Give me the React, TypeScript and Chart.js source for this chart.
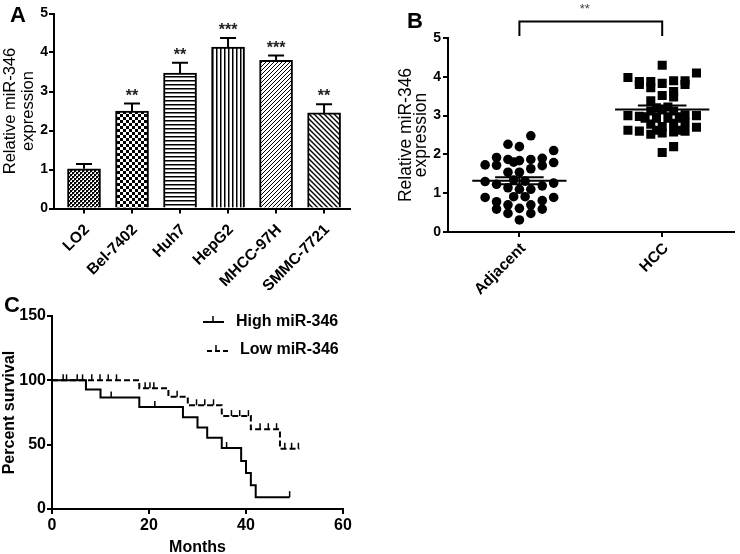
import React, { useEffect, useRef } from 'react';
import { Chart, registerables } from 'chart.js';

Chart.register(...registerables);

const FONT = '"Liberation Sans", Arial, Helvetica, sans-serif';

// ---------- Panel A ----------
const cellLines = ['LO2', 'Bel-7402', 'Huh7', 'HepG2', 'MHCC-97H', 'SMMC-7721'];
const expression = [1.02, 2.5, 3.47, 4.14, 3.8, 2.45];
const expressionSem = [0.12, 0.19, 0.27, 0.23, 0.12, 0.22];
const cellSignificance = ['', '**', '**', '***', '***', '**'];
const patternKinds = ['fineCheck', 'check', 'hLines', 'vLines', 'diagUp', 'diagDown'];

// ---------- Panel B ----------
const groups = ['Adjacent', 'HCC'];
const adjacentX = [1.08, 0.92, 1.0, 1.24, 0.84, 0.92, 0.96, 1.0, 1.08, 1.16, 1.24, 0.76, 0.84, 1.16, 1.08, 0.92, 1.0, 0.76, 0.84, 0.92, 1.0, 1.08, 1.16, 1.24, 0.96, 1.04, 0.76, 1.24, 0.96, 1.04, 0.84, 1.16, 0.92, 1.08, 0.84, 1.0, 1.16, 0.92, 1.08, 1.0];
const adjacentY = [2.48, 2.26, 2.2, 2.1, 1.92, 1.87, 1.8, 1.84, 1.87, 1.9, 1.79, 1.73, 1.72, 1.71, 1.63, 1.54, 1.54, 1.3, 1.23, 1.14, 1.1, 1.1, 1.19, 1.26, 1.34, 1.31, 0.89, 0.89, 0.91, 0.91, 0.78, 0.81, 0.7, 0.7, 0.59, 0.61, 0.59, 0.48, 0.48, 0.31];
const hccX = [2.0, 2.24, 1.76, 1.84, 1.84, 1.92, 1.92, 2.0, 2.08, 2.16, 2.16, 2.0, 2.08, 2.08, 1.92, 1.92, 2.0, 2.08, 1.96, 2.04, 1.76, 1.84, 2.16, 2.24, 1.88, 1.96, 2.04, 2.12, 1.92, 2.08, 2.24, 2.0, 2.16, 1.76, 1.84, 1.92, 2.0, 2.08, 2.16, 1.96, 2.12, 2.0, 2.08];
const hccY = [4.3, 4.1, 3.98, 3.88, 3.8, 3.88, 3.72, 3.83, 3.9, 3.9, 3.8, 3.52, 3.62, 3.48, 3.38, 3.12, 3.15, 3.12, 3.2, 3.22, 3.0, 2.98, 3.02, 3.0, 2.93, 2.93, 2.93, 2.93, 2.78, 2.8, 2.7, 2.72, 2.82, 2.62, 2.6, 2.52, 2.55, 2.58, 2.6, 2.62, 2.62, 2.05, 2.2];
const groupMeans = [1.32, 3.16];
const groupSems = [0.09, 0.1];
const groupSignificance = '**';

// ---------- Panel C ----------
const highMonths = [0, 7, 10, 18, 27, 30, 32, 35, 39, 40, 41, 42, 49];
const highSurvival = [100, 92.9, 86.7, 79.2, 71.4, 63.3, 55.3, 47.4, 37.3, 27.9, 18.4, 9.2, 9.2];
const highCensorMonths = [2.3, 5.2, 12.2, 21.2, 36, 49];
const lowMonths = [0, 18, 24, 28, 35, 41, 47, 51];
const lowSurvival = [100, 93.8, 87.3, 80.6, 72.2, 62.0, 46.8, 46.8];
const lowCensorMonths = [3, 6.3, 8.2, 9.9, 11.6, 13.3, 19.2, 20.2, 21, 25.8, 29.8, 31.5, 33.3, 37, 38.7, 40.5, 42.9, 44.6, 46.3, 48, 49.4, 50.8];
const survivalLegend = ['High miR-346', 'Low miR-346'];

function survivalAt(months: number[], surv: number[], t: number) {
  let v = surv[0];
  for (let i = 0; i < months.length; i++) if (months[i] <= t) v = surv[i];
  return v;
}

function makePattern(kind: string): CanvasPattern | string {
  const c = document.createElement('canvas');
  const ctx = c.getContext('2d')!;
  let n = 4;
  if (kind === 'check') n = 6;
  if (kind === 'diagDown') n = 5;
  c.width = n; c.height = n;
  ctx.fillStyle = '#fff';
  ctx.fillRect(0, 0, n, n);
  ctx.fillStyle = '#000';
  ctx.strokeStyle = '#000';
  if (kind === 'fineCheck') {
    ctx.fillRect(0, 0, 2, 2); ctx.fillRect(2, 2, 2, 2);
    ctx.fillStyle = '#666';
    ctx.fillRect(2, 0, 1, 1); ctx.fillRect(0, 2, 1, 1);
  } else if (kind === 'check') {
    ctx.fillRect(0, 0, 3, 3); ctx.fillRect(3, 3, 3, 3);
  } else if (kind === 'hLines') {
    ctx.fillRect(0, 0, n, 1.5);
  } else if (kind === 'vLines') {
    ctx.fillRect(0, 0, 1.5, n);
  } else if (kind === 'diagUp') {
    ctx.lineWidth = 1;
    ctx.beginPath();
    ctx.moveTo(-1, n + 1); ctx.lineTo(n + 1, -1);
    ctx.moveTo(-1, 1); ctx.lineTo(1, -1);
    ctx.moveTo(n - 1, n + 1); ctx.lineTo(n + 1, n - 1);
    ctx.stroke();
  } else if (kind === 'diagDown') {
    ctx.lineWidth = 1.4;
    ctx.beginPath();
    ctx.moveTo(-1, -1); ctx.lineTo(n + 1, n + 1);
    ctx.moveTo(-1, n - 1); ctx.lineTo(1, n + 1);
    ctx.moveTo(n - 1, -1); ctx.lineTo(n + 1, 1);
    ctx.stroke();
  }
  return ctx.createPattern(c, 'repeat') || '#888';
}

const axisGrid = { drawOnChartArea: false, drawTicks: true, tickLength: 5, color: '#000', lineWidth: 2, offset: false };
const axisBorder = { display: true, color: '#000', width: 2 };

function drawRotatedLabels(chart: any, labels: string[], firstValue: number, dx: number, dy: number) {
  const { ctx, scales } = chart;
  const xs = scales.x;
  const axisY = scales.y.getPixelForValue(0);
  ctx.save();
  ctx.fillStyle = '#000';
  ctx.font = `bold 15.5px ${FONT}`;
  ctx.textAlign = 'right';
  ctx.textBaseline = 'middle';
  labels.forEach((lab, i) => {
    const x = xs.getPixelForValue(firstValue + i);
    ctx.save();
    ctx.translate(x + dx, axisY + dy);
    ctx.rotate(-Math.PI / 4);
    ctx.fillText(lab, 0, 0);
    ctx.restore();
  });
  ctx.restore();
}

function ChartBox({ left, top, width, height, make }: any) {
  const ref = useRef<HTMLCanvasElement>(null);
  useEffect(() => {
    const chart = new Chart(ref.current!, make());
    return () => chart.destroy();
  }, []);
  return (
    <canvas
      ref={ref}
      width={width}
      height={height}
      style={{ position: 'absolute', left, top, width, height }}
    />
  );
}

function makeChartA(): any {
  const errorPlugin = {
    id: 'errA',
    afterDatasetsDraw(chart: any) {
      const { ctx, scales } = chart;
      const xs = scales.x, ys = scales.y;
      ctx.save();
      ctx.strokeStyle = '#000';
      ctx.lineWidth = 2;
      cellLines.forEach((_, i) => {
        const x = xs.getPixelForValue(i);
        const yb = ys.getPixelForValue(expression[i]);
        const yt = ys.getPixelForValue(expression[i] + expressionSem[i]);
        ctx.beginPath();
        ctx.moveTo(x, yb); ctx.lineTo(x, yt);
        ctx.moveTo(x - 8, yt); ctx.lineTo(x + 8, yt);
        ctx.stroke();
        if (cellSignificance[i]) {
          ctx.fillStyle = '#222';
          ctx.font = `bold 16px ${FONT}`;
          ctx.textAlign = 'center';
          ctx.textBaseline = 'alphabetic';
          ctx.fillText(cellSignificance[i], x, yt - 3);
        }
      });
      ctx.restore();
      drawRotatedLabels(chart, cellLines, 0, 3, 19);
    },
  };
  return {
    type: 'bar',
    data: {
      datasets: [{
        data: cellLines.map((_, i) => ({ x: i, y: expression[i] })),
        backgroundColor: patternKinds.map(makePattern),
        borderColor: '#000',
        borderWidth: 2,
        barThickness: 33,
      }],
    },
    options: {
      animation: false,
      responsive: false,
      events: [],
      layout: { padding: { top: 13.5, right: 20, left: 0, bottom: 0 } },
      plugins: { legend: { display: false }, tooltip: { enabled: false } },
      scales: {
        x: {
          type: 'linear',
          offset: false,
          min: -0.625,
          max: 5.54,
          afterBuildTicks: (s: any) => { s.ticks = cellLines.map((_, i) => ({ value: i })); },
          afterFit: (s: any) => { s.height = 81.5; s.paddingLeft = 0; s.paddingRight = 0; },
          ticks: { display: false },
          grid: axisGrid,
          border: axisBorder,
        },
        y: {
          min: 0,
          max: 5,
          afterFit: (s: any) => { s.width = 54; },
          ticks: { stepSize: 1, padding: 1, color: '#000', font: { family: FONT, size: 14, weight: 'bold' } },
          grid: axisGrid,
          border: axisBorder,
          title: {
            display: true,
            text: ['Relative miR-346', 'expression'],
            color: '#000',
            font: { family: FONT, size: 16.5, lineHeight: 1.1 },
            padding: { top: 1, bottom: 0 },
          },
        },
      },
    },
    plugins: [errorPlugin],
  };
}

function makeChartB(): any {
  const meanPlugin = {
    id: 'meanB',
    afterDatasetsDraw(chart: any) {
      const { ctx, scales } = chart;
      const xs = scales.x, ys = scales.y;
      ctx.save();
      ctx.strokeStyle = '#000';
      ctx.lineWidth = 2;
      groups.forEach((_, i) => {
        const c = i + 1;
        const m = groupMeans[i], s = groupSems[i];
        const ym = ys.getPixelForValue(m);
        const yh = ys.getPixelForValue(m + s);
        const yl = ys.getPixelForValue(m - s);
        ctx.beginPath();
        ctx.moveTo(xs.getPixelForValue(c - 0.33), ym); ctx.lineTo(xs.getPixelForValue(c + 0.33), ym);
        ctx.moveTo(xs.getPixelForValue(c - 0.17), yh); ctx.lineTo(xs.getPixelForValue(c + 0.17), yh);
        ctx.moveTo(xs.getPixelForValue(c - 0.17), yl); ctx.lineTo(xs.getPixelForValue(c + 0.17), yl);
        ctx.moveTo(xs.getPixelForValue(c), yl); ctx.lineTo(xs.getPixelForValue(c), yh);
        ctx.stroke();
      });
      const x1 = xs.getPixelForValue(1), x2 = xs.getPixelForValue(2);
      ctx.beginPath();
      ctx.moveTo(x1, 36); ctx.lineTo(x1, 21.5); ctx.lineTo(x2, 21.5); ctx.lineTo(x2, 36);
      ctx.stroke();
      ctx.fillStyle = '#444';
      ctx.font = `13px ${FONT}`;
      ctx.textAlign = 'center';
      ctx.textBaseline = 'alphabetic';
      ctx.fillText(groupSignificance, (x1 + x2) / 2 - 6, 13);
      ctx.restore();
      drawRotatedLabels(chart, groups, 1, 4, 14);
    },
  };
  return {
    type: 'scatter',
    data: {
      datasets: [
        {
          data: adjacentX.map((x, i) => ({ x, y: adjacentY[i] })),
          pointStyle: 'circle', pointRadius: 4.8, backgroundColor: '#000', borderColor: '#000', borderWidth: 0,
        },
        {
          data: hccX.map((x, i) => ({ x, y: hccY[i] })),
          pointStyle: 'rect', pointRadius: 6.4, backgroundColor: '#000', borderColor: '#000', borderWidth: 0,
        },
      ],
    },
    options: {
      animation: false,
      responsive: false,
      events: [],
      layout: { padding: { top: 38, right: 2, left: 0, bottom: 0 } },
      plugins: { legend: { display: false }, tooltip: { enabled: false } },
      scales: {
        x: {
          type: 'linear',
          offset: false,
          min: 0.5,
          max: 2.5,
          afterBuildTicks: (s: any) => { s.ticks = groups.map((_, i) => ({ value: i + 1 })); },
          afterFit: (s: any) => { s.height = 68; },
          ticks: { display: false },
          grid: axisGrid,
          border: axisBorder,
        },
        y: {
          min: 0,
          max: 5,
          afterFit: (s: any) => { s.width = 68; },
          ticks: { stepSize: 1, padding: 2, color: '#000', font: { family: FONT, size: 14, weight: 'bold' } },
          grid: axisGrid,
          border: axisBorder,
          title: {
            display: true,
            text: ['Relative miR-346', 'expression'],
            color: '#000',
            font: { family: FONT, size: 17.5, lineHeight: 0.9 },
            padding: { top: 18, bottom: 0 },
          },
        },
      },
    },
    plugins: [meanPlugin],
  };
}

function makeChartC(): any {
  const kmPlugin = {
    id: 'kmC',
    afterDatasetsDraw(chart: any) {
      const { ctx, scales } = chart;
      const xs = scales.x, ys = scales.y;
      ctx.save();
      ctx.strokeStyle = '#000';
      ctx.lineWidth = 1.5;
      const drawCensor = (months: number[], surv: number[], censors: number[]) => {
        censors.forEach((t) => {
          const x = xs.getPixelForValue(t);
          const y = ys.getPixelForValue(survivalAt(months, surv, t));
          ctx.beginPath();
          ctx.moveTo(x, y); ctx.lineTo(x, y - 6);
          ctx.stroke();
        });
      };
      drawCensor(highMonths, highSurvival, highCensorMonths);
      drawCensor(lowMonths, lowSurvival, lowCensorMonths);

      // legend
      ctx.lineWidth = 2;
      ctx.beginPath();
      ctx.moveTo(203, 22); ctx.lineTo(224, 22);
      ctx.stroke();
      ctx.lineWidth = 1.5;
      ctx.beginPath();
      ctx.moveTo(213, 22); ctx.lineTo(213, 16);
      ctx.stroke();
      ctx.lineWidth = 2;
      ctx.setLineDash([5, 3]);
      ctx.beginPath();
      ctx.moveTo(207, 51); ctx.lineTo(231, 51);
      ctx.stroke();
      ctx.setLineDash([]);
      ctx.lineWidth = 1.5;
      ctx.beginPath();
      ctx.moveTo(216, 51); ctx.lineTo(216, 45);
      ctx.stroke();
      ctx.fillStyle = '#000';
      ctx.font = `bold 16px ${FONT}`;
      ctx.textAlign = 'left';
      ctx.textBaseline = 'middle';
      ctx.fillText(survivalLegend[0], 236, 22);
      ctx.fillText(survivalLegend[1], 240, 50);
      ctx.restore();
    },
  };
  return {
    type: 'line',
    data: {
      datasets: [
        {
          data: highMonths.map((m, i) => ({ x: m, y: highSurvival[i] })),
          stepped: 'before', borderColor: '#000', borderWidth: 2, pointRadius: 0, fill: false,
        },
        {
          data: lowMonths.map((m, i) => ({ x: m, y: lowSurvival[i] })),
          stepped: 'before', borderColor: '#000', borderWidth: 2, borderDash: [6, 3], pointRadius: 0, fill: false,
        },
      ],
    },
    options: {
      animation: false,
      responsive: false,
      events: [],
      layout: { padding: { top: 16, right: 27, left: 0, bottom: 0 } },
      plugins: { legend: { display: false }, tooltip: { enabled: false } },
      scales: {
        x: {
          type: 'linear',
          min: 0,
          max: 60,
          afterFit: (s: any) => { s.height = 45; },
          ticks: { stepSize: 20, padding: 2, maxRotation: 0, color: '#000', font: { family: FONT, size: 16, weight: 'bold' } },
          grid: axisGrid,
          border: axisBorder,
          title: {
            display: true, text: 'Months', color: '#000',
            font: { family: FONT, size: 16, weight: 'bold', lineHeight: 1 },
            padding: { top: 0, bottom: -2 },
          },
        },
        y: {
          min: 0,
          max: 150,
          afterFit: (s: any) => { s.width = 52; },
          ticks: { stepSize: 50, padding: 1, color: '#000', font: { family: FONT, size: 16, weight: 'bold' } },
          grid: axisGrid,
          border: axisBorder,
          title: {
            display: true, text: 'Percent survival', color: '#000',
            font: { family: FONT, size: 16, weight: 'bold', lineHeight: 1.2 },
            padding: { top: 0, bottom: 0 },
          },
        },
      },
    },
    plugins: [kmPlugin],
  };
}

const letterStyle: React.CSSProperties = {
  position: 'absolute',
  fontFamily: FONT,
  fontWeight: 'bold',
  fontSize: 22,
  lineHeight: '22px',
  color: '#000',
};

export default function App() {
  return (
    <div style={{ position: 'absolute', left: 0, top: 0, width: 740, height: 554, background: '#fff', overflow: 'hidden' }}>
      <ChartBox left={0} top={0} width={370} height={290} make={makeChartA} />
      <ChartBox left={380} top={0} width={360} height={300} make={makeChartB} />
      <ChartBox left={0} top={300} width={370} height={254} make={makeChartC} />
      <div style={{ ...letterStyle, left: 10, top: 4 }}>A</div>
      <div style={{ ...letterStyle, left: 407, top: 10 }}>B</div>
      <div style={{ ...letterStyle, left: 4, top: 294 }}>C</div>
    </div>
  );
}
